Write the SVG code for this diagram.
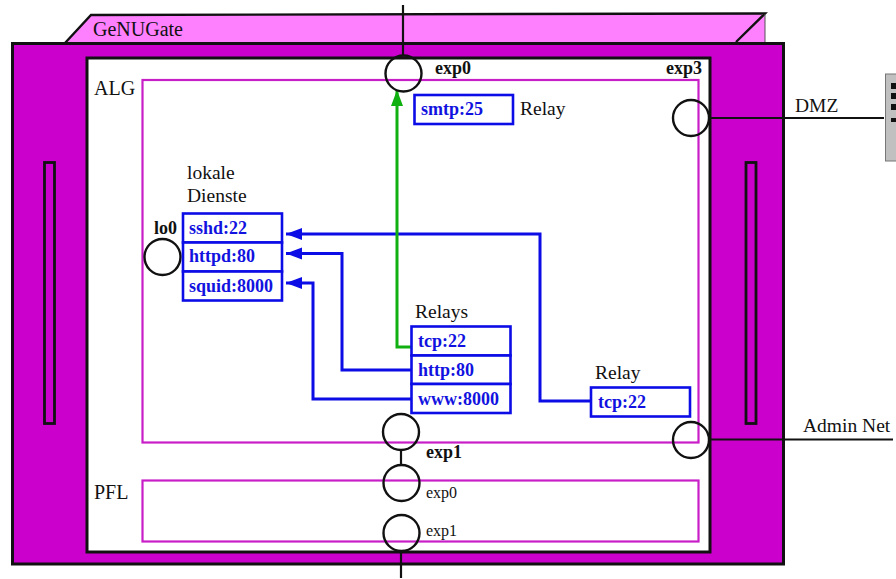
<svg xmlns="http://www.w3.org/2000/svg" width="896" height="579" viewBox="0 0 896 579">
<defs>
<marker id="ab" markerUnits="userSpaceOnUse" markerWidth="18" markerHeight="14" refX="16" refY="6" orient="auto"><path d="M0 0L16 6L0 12Z" fill="#0c0ce6"/></marker>
<marker id="ag" markerUnits="userSpaceOnUse" markerWidth="18" markerHeight="14" refX="16" refY="6" orient="auto"><path d="M0 0L16 6L0 12Z" fill="#10b010"/></marker>
</defs>
<style>
text{font-family:"Liberation Serif","Times New Roman",serif;fill:#111}
.l{font-size:19.5px}
.h{font-size:20px}
.b{font-size:18px;font-weight:bold}
.s{font-size:16px}
.t{font-size:18px;font-weight:bold;fill:#1212e0}
.box{fill:#fff;stroke:#0c0ce6;stroke-width:2.600}
.zone{fill:none;stroke:#c81ec8;stroke-width:2.200}
.port{fill:none;stroke:#111;stroke-width:2.400}
.wire{fill:none;stroke:#111;stroke-width:2.200}
.bl{fill:none;stroke:#0c0ce6;stroke-width:3}
.slot{fill:#cc00cc;stroke:#111;stroke-width:2.800}
</style>
<rect width="896" height="579" fill="#fff"/>
<g id="genugate">
<path d="M65 43L91 15L765 14V43Z" fill="#ff80ff"/>
<path d="M65 43L91 15L765 13.500L736 42" fill="none" stroke="#111" stroke-width="2.400"/>
<path d="M765 14V43" stroke="#555" stroke-width="1" fill="none"/>
<rect x="12.500" y="43.500" width="771" height="520.500" fill="#cc00cc" stroke="#111" stroke-width="3"/>
<rect x="87" y="58" width="623" height="494" fill="#fff" stroke="#111" stroke-width="3"/>
<rect class="slot" x="44.500" y="162.500" width="10" height="261"/>
<rect class="slot" x="746" y="162.500" width="10" height="261"/>
<text x="93" y="36" class="h">GeNUGate</text>
</g>
<g id="alg">
<rect class="zone" x="142.500" y="80" width="556" height="362.500"/>
<text x="94" y="95" class="h">ALG</text>
</g>
<g id="pfl">
<rect class="zone" x="142.500" y="480.500" width="556" height="61"/>
<text x="94" y="499" class="h">PFL</text>
</g>
<g id="device">
<rect x="885.500" y="74" width="12" height="87" fill="#c0c0c0" stroke="#777" stroke-width="1"/>
<path d="M891 83h5v6h-5zM891 93h5v6h-5zM891 104h5v6h-5zM891 118h5v4h-5z" fill="#111"/>
</g>
<g id="connectors">
<path class="wire" d="M403 5V55"/>
<path class="wire" d="M710 118H884"/>
<path class="wire" d="M710 439.500H893"/>
<path class="wire" d="M401 450V465"/>
<path class="wire" d="M401 551V578"/>
<path class="bl" marker-end="url(#ab)" d="M591 401H540V234H286"/>
<path class="bl" marker-end="url(#ab)" d="M411 370H342V253.500H286"/>
<path class="bl" marker-end="url(#ab)" d="M411 399H313V283H286"/>
<path d="M412 347H397V90" fill="none" stroke="#10b010" stroke-width="3" marker-end="url(#ag)"/>
</g>
<g id="port-exp0-top"><circle class="port" cx="403.500" cy="73.500" r="18"/><text x="435" y="74" class="b">exp0</text></g>
<g id="port-exp3"><circle class="port" cx="691" cy="118" r="18"/><text x="666" y="74" class="b">exp3</text></g>
<g id="port-lo0"><circle class="port" cx="162.500" cy="257" r="18"/><text x="154" y="234" class="b">lo0</text></g>
<g id="port-exp1"><circle class="port" cx="401" cy="432" r="18"/><text x="426" y="458" class="b">exp1</text></g>
<g id="port-pfl-exp0"><circle class="port" cx="401.500" cy="483" r="18"/><text x="426" y="498" class="s">exp0</text></g>
<g id="port-pfl-exp1"><circle class="port" cx="401.500" cy="533" r="18"/><text x="426" y="536" class="s">exp1</text></g>
<g id="port-admin"><circle class="port" cx="691" cy="440" r="18"/></g>
<g id="smtp"><rect class="box" x="414.500" y="95" width="98.500" height="29"/><text x="421" y="115" class="t">smtp:25</text><text x="520" y="115" class="l">Relay</text></g>
<g id="lokale-dienste">
<text x="187" y="179" class="l">lokale</text><text x="187" y="202" class="l">Dienste</text>
<rect class="box" x="183" y="213.500" width="99" height="29"/><text x="189" y="234" class="t">sshd:22</text>
<rect class="box" x="183" y="242.500" width="99" height="29"/><text x="189" y="262" class="t">httpd:80</text>
<rect class="box" x="183" y="271.500" width="99" height="29"/><text x="189" y="292" class="t">squid:8000</text>
</g>
<g id="relays">
<text x="415" y="318" class="l">Relays</text>
<rect class="box" x="411.500" y="326.500" width="99" height="29"/><text x="418" y="347" class="t">tcp:22</text>
<rect class="box" x="411.500" y="355.500" width="99" height="28.500"/><text x="418" y="376" class="t">http:80</text>
<rect class="box" x="411.500" y="384" width="99" height="29"/><text x="418" y="405" class="t">www:8000</text>
</g>
<g id="relay-tcp"><text x="595" y="379" class="l">Relay</text><rect class="box" x="591" y="387.500" width="99" height="29"/><text x="598" y="408" class="t">tcp:22</text></g>
<g id="labels"><text x="795" y="112" class="l">DMZ</text><text x="803" y="432" class="l">Admin Net</text></g>
</svg>
